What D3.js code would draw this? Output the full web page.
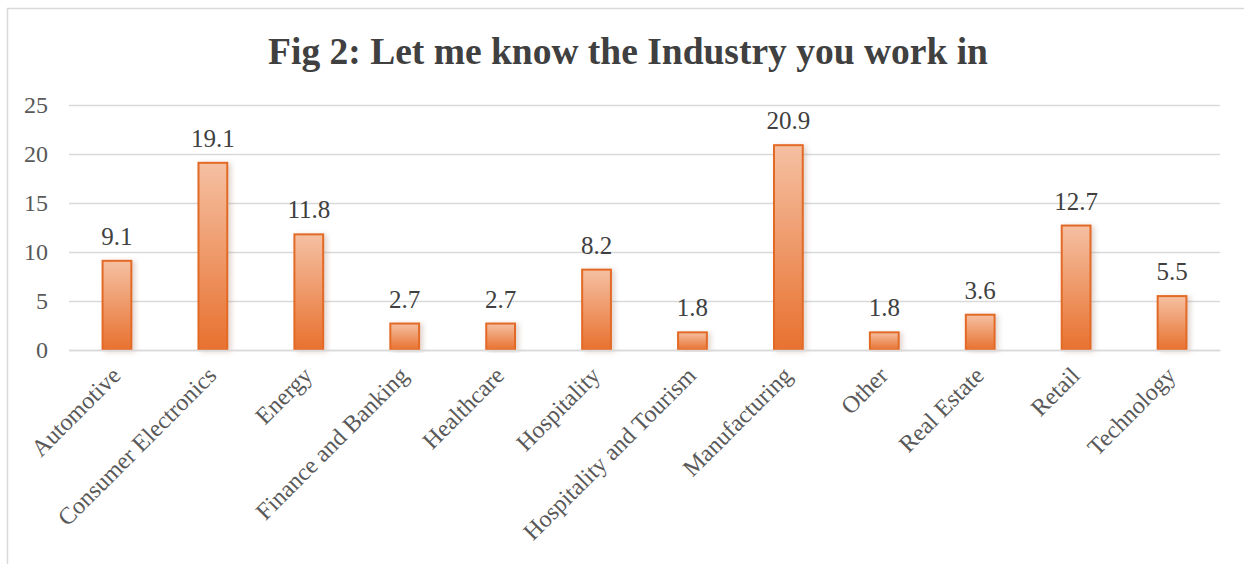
<!DOCTYPE html>
<html>
<head>
<meta charset="utf-8">
<script src="https://cdn.jsdelivr.net/npm/d3@7"></script>
<style>
  body { margin: 0; background: #fff; }
  svg { display: block; font-family: "Liberation Serif", "Times New Roman", serif; }
</style>
</head>
<body>
<svg width="1244" height="564"></svg>
<script>
const industries = ['Automotive', 'Consumer Electronics', 'Energy', 'Finance and Banking', 'Healthcare',
    'Hospitality', 'Hospitality and Tourism', 'Manufacturing', 'Other', 'Real Estate', 'Retail', 'Technology'];
const shares = [9.1, 19.1, 11.8, 2.7, 2.7, 8.2, 1.8, 20.9, 1.8, 3.6, 12.7, 5.5];
const yTicks = [0, 5, 10, 15, 20, 25];
const title = 'Fig 2: Let me know the Industry you work in';

const svg = d3.select('svg');
const margins = { left: 69, right: 24, top: 105, bottom: 214 };
const width = 1244, height = 564;
const serif = '"Liberation Serif", "Times New Roman", serif';

// outer frame
svg.append('rect')
    .attr('x', 7.5).attr('y', 8.5)
    .attr('width', 1260).attr('height', 600)
    .attr('fill', 'none').attr('stroke', '#d9d9d9').attr('stroke-width', 1.5);

const defs = svg.append('defs');
const grad = defs.append('linearGradient').attr('id', 'barGrad')
    .attr('x1', 0).attr('y1', 0).attr('x2', 0).attr('y2', 1);
grad.append('stop').attr('offset', '0%').attr('stop-color', '#f5c0a2');
grad.append('stop').attr('offset', '100%').attr('stop-color', '#e8712f');
const shadow = defs.append('filter').attr('id', 'shadow')
    .attr('x', '-30%').attr('y', '-10%').attr('width', '160%').attr('height', '120%');
shadow.append('feDropShadow').attr('dx', 3).attr('dy', 1).attr('stdDeviation', 2.5)
    .attr('flood-color', '#8a5a4a').attr('flood-opacity', 0.25);

svg.append('text')
    .attr('x', 628).attr('y', 64)
    .attr('text-anchor', 'middle')
    .attr('font-size', 37.5).attr('font-weight', 'bold')
    .attr('fill', '#404040')
    .text(title);

const innerW = width - margins.left - margins.right;
const innerH = height - margins.top - margins.bottom;
const g = svg.append('g').attr('transform', `translate(${margins.left}, ${margins.top})`);

const x = d3.scaleBand().domain(industries).range([0, innerW]).paddingInner(0.7).paddingOuter(0.35);
const y = d3.scaleLinear().domain([0, 25]).range([innerH, 0]);

// gridlines + y labels
const yAxis = g.append('g')
    .call(d3.axisLeft(y).tickValues(yTicks).tickSize(-innerW).tickPadding(21));
yAxis.select('.domain').remove();
yAxis.selectAll('.tick line').attr('stroke', '#d9d9d9').attr('stroke-width', 1.5);
yAxis.selectAll('.tick text')
    .attr('font-family', serif)
    .attr('font-size', 24).attr('fill', '#595959');

// bars
g.append('g').selectAll('rect')
    .data(industries)
    .join('rect')
    .attr('x', d => x(d))
    .attr('y', (d, i) => y(shares[i]))
    .attr('width', x.bandwidth())
    .attr('height', (d, i) => y(0) - y(shares[i]))
    .attr('fill', 'url(#barGrad)')
    .attr('stroke', '#e36a25').attr('stroke-width', 2)
    .attr('filter', 'url(#shadow)');

// data labels
g.append('g').selectAll('text')
    .data(industries)
    .join('text')
    .attr('x', d => x(d) + x.bandwidth() / 2)
    .attr('y', (d, i) => y(shares[i]) - 16)
    .attr('text-anchor', 'middle')
    .attr('font-size', 25).attr('fill', '#404040')
    .text((d, i) => shares[i]);

// category axis
const xAxis = g.append('g')
    .attr('transform', `translate(0, ${innerH})`)
    .call(d3.axisBottom(x).tickSize(0).tickPadding(0));
xAxis.select('.domain').attr('stroke', '#d9d9d9').attr('stroke-width', 1.5);
xAxis.selectAll('.tick text')
    .attr('font-family', serif)
    .attr('font-size', 24).attr('fill', '#595959')
    .attr('text-anchor', 'end')
    .attr('dy', 0)
    .attr('transform', 'translate(5, 27) rotate(-45)');
</script>
</body>
</html>
